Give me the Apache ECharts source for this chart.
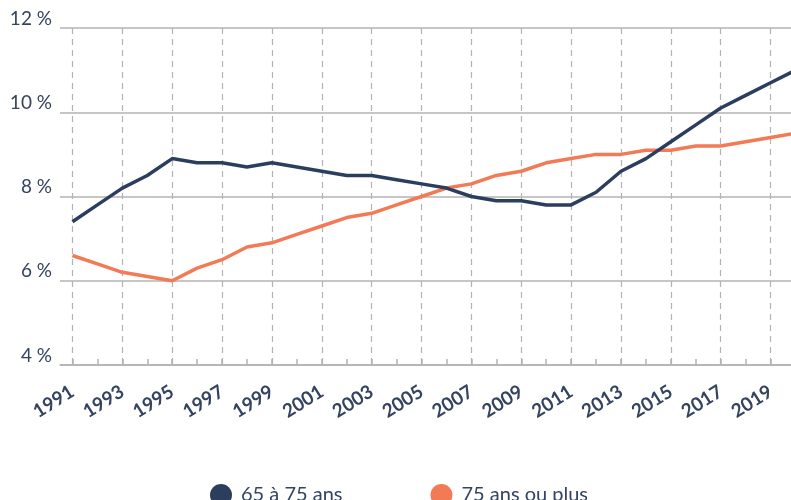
<!DOCTYPE html>
<html>
<head>
<meta charset="utf-8">
<script src="https://cdn.jsdelivr.net/npm/echarts@6/dist/echarts.min.js"></script>
<style>html,body{margin:0;padding:0;background:#fff}#c{width:791px;height:500px}</style>
</head>
<body>
<div id="c"></div>
<script>
var years = ['1991','1992','1993','1994','1995','1996','1997','1998','1999','2000','2001','2002','2003','2004','2005','2006','2007','2008','2009','2010','2011','2012','2013','2014','2015','2016','2017','2018','2019','2020'];
var age65to75 = [7.4,7.8,8.2,8.5,8.9,8.8,8.8,8.7,8.8,8.7,8.6,8.5,8.5,8.4,8.3,8.2,8.0,7.9,7.9,7.8,7.8,8.1,8.6,8.9,9.3,9.7,10.1,10.4,10.7,11.0];
var age75plus = [6.6,6.4,6.2,6.1,6.0,6.3,6.5,6.8,6.9,7.1,7.3,7.5,7.6,7.8,8.0,8.2,8.3,8.5,8.6,8.8,8.9,9.0,9.0,9.1,9.1,9.2,9.2,9.3,9.4,9.5];
var seriesNames = ['65 à 75 ans','75 ans ou plus'];
var yTicks = {min: 4, max: 12, interval: 2};

var navy = '#2c3e5d', orange = '#f27a55', textC = '#34435f', gridC = '#b3b3b3';
var font = 'Lato';
var chart = echarts.init(document.getElementById('c'), null, {renderer: 'canvas'});
chart.setOption({
  animation: false,
  backgroundColor: '#fff',
  grid: {left: 60, top: 28, width: 748, bottom: 135, containLabel: false, outerBoundsMode: 'none'},
  legend: {
    data: seriesNames, left: 205, top: 479, icon: 'circle', itemWidth: 22, itemHeight: 22, itemGap: 88,
    textStyle: {fontFamily: font, fontSize: 20, color: textC, padding: [0,0,0,4]}
  },
  xAxis: {
    type: 'category', data: years, boundaryGap: true,
    axisLine: {show: true, lineStyle: {color: gridC, width: 1.5}},
    axisTick: {show: true, inside: true, length: 6, interval: 0, alignWithLabel: true, lineStyle: {color: gridC, width: 1.5}},
    axisLabel: {interval: 1, rotate: 32, margin: 25, color: textC, fontFamily: font, fontSize: 19, fontWeight: 'bold'},
    splitLine: {show: true, interval: 1, alignWithLabel: true, lineStyle: {color: gridC, type: [6, 5], width: 1.2}}
  },
  yAxis: {
    type: 'value', min: yTicks.min, max: yTicks.max, interval: yTicks.interval,
    axisLine: {show: false}, axisTick: {show: false},
    axisLabel: {formatter: '{value} %', color: textC, fontFamily: font, fontSize: 19, margin: 8, verticalAlign: 'bottom', lineHeight: 19},
    splitLine: {lineStyle: {color: gridC, width: 1.5}}
  },
  series: [
    {name: seriesNames[0], type: 'line', data: age65to75, showSymbol: false, color: navy, lineStyle: {width: 3.5, color: navy}, z: 3},
    {name: seriesNames[1], type: 'line', data: age75plus, showSymbol: false, color: orange, lineStyle: {width: 3.5, color: orange}, z: 2}
  ]
});
</script>
</body>
</html>
